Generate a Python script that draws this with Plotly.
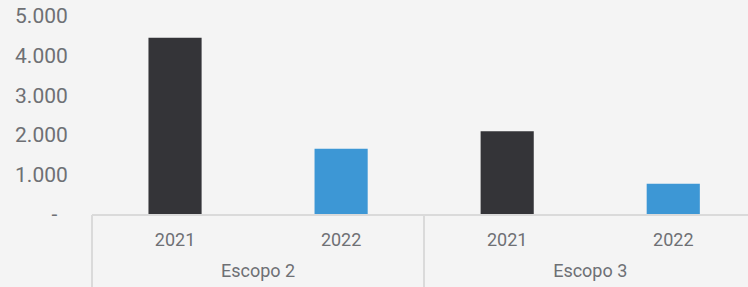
import plotly.graph_objects as go

groups = ["Escopo 2", "Escopo 2", "Escopo 3", "Escopo 3"]
years = ["2021", "2022", "2021", "2022"]
values = [4450, 1650, 2090, 765]
colors = ["#343438", "#3d97d5", "#343438", "#3d97d5"]

tick_vals = [0, 1000, 2000, 3000, 4000, 5000]
tick_text = ["-\u00a0\u00a0", "1.000", "2.000", "3.000", "4.000", "5.000"]

text_color = "#6e7074"
line_color = "#dadada"

# category positions derived from the data order
pos = list(range(len(values)))
group_names = list(dict.fromkeys(groups))
group_centers = [sum(p for p, g in zip(pos, groups) if g == name) /
                 groups.count(name) for name in group_names]
group_starts = [min(p for p, g in zip(pos, groups) if g == name) - 0.5
                for name in group_names]

x_range = [-0.5, 3.45]

fig = go.Figure()
fig.add_trace(go.Bar(
    x=pos, y=values,
    marker=dict(color=colors, line=dict(width=0)),
    hoverinfo="skip",
))
# empty helper traces so the extra label/divider axes are drawn
fig.add_trace(go.Scatter(x=[], y=[], xaxis="x2", yaxis="y", hoverinfo="skip"))
fig.add_trace(go.Scatter(x=[], y=[], xaxis="x3", yaxis="y", hoverinfo="skip"))

fig.update_layout(
    width=748, height=287,
    margin=dict(l=92, r=0, t=16, b=0, autoexpand=False),
    paper_bgcolor="#f4f4f4",
    plot_bgcolor="#f4f4f4",
    bargap=0.68,
    showlegend=False,
    font=dict(family="Roboto", size=18, color=text_color),
    yaxis=dict(
        domain=[0.2694, 1],
        range=[0, 5000],
        tickvals=tick_vals, ticktext=tick_text,
        showgrid=False, zeroline=False, showline=False,
        ticks="outside", ticklen=19, tickcolor="rgba(0,0,0,0)",
        tickfont=dict(size=21, color=text_color),
        automargin=False,
    ),
    xaxis=dict(
        range=x_range,
        tickvals=pos, ticktext=years,
        showline=True, linecolor=line_color, linewidth=2,
        showgrid=False, zeroline=False,
        ticklabelstandoff=8,
        tickfont=dict(size=18, color=text_color),
        automargin=False,
    ),
    xaxis2=dict(
        overlaying="x", anchor="free", position=0.107, side="bottom",
        range=x_range,
        tickvals=group_centers, ticktext=group_names,
        showline=False, showgrid=False, zeroline=False,
        tickfont=dict(size=18, color=text_color),
        automargin=False,
    ),
    xaxis3=dict(
        overlaying="x", anchor="y", side="bottom",
        range=x_range,
        tickvals=group_starts, showticklabels=False,
        ticks="outside", ticklen=73, tickwidth=2, tickcolor=line_color,
        showline=False, showgrid=False, zeroline=False,
        automargin=False,
    ),
)

fig.write_html("out.html", config={"displayModeBar": False},
               post_script="document.body.style.margin='0';")
